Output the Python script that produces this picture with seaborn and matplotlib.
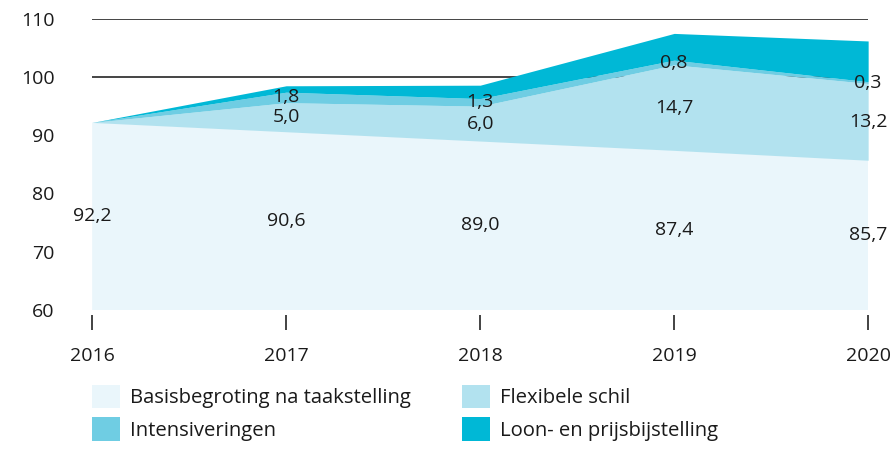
import matplotlib
matplotlib.use("Agg")
import matplotlib.pyplot as plt
from matplotlib.patches import Patch
import seaborn as sns
import pandas as pd

years = [2016, 2017, 2018, 2019, 2020]
basis = [92.2, 90.6, 89.0, 87.4, 85.7]
flexibel = [0.0, 5.0, 6.0, 14.7, 13.2]
intensiveringen = [0.0, 1.8, 1.3, 0.8, 0.3]
loon_prijs = [0.0, 1.1, 2.3, 4.6, 7.0]

series_names = ["Basisbegroting na taakstelling", "Flexibele schil",
                "Intensiveringen", "Loon- en prijsbijstelling"]
colors = ["#EAF6FB", "#B2E2EF", "#6FCDE3", "#00B8D6"]
yticks = [60, 70, 80, 90, 100, 110]
gridlines = [100, 110]

def fmt(v):
    return f"{v:.1f}".replace(".", ",")

df = pd.DataFrame({"jaar": years, series_names[0]: basis, series_names[1]: flexibel,
                   series_names[2]: intensiveringen, series_names[3]: loon_prijs})

sns.set_theme(style="white")
plt.rcParams["font.family"] = ["Open Sans", "DejaVu Sans"]
text_color = "#1a1a1a"
fs = 14
fs_leg = 14.6
px = fs_leg * 100 / 72.0

fig = plt.figure(figsize=(8.95, 4.49), dpi=100)
ax = fig.add_axes([0.103, 0.31, 0.867, 0.648])

for g in gridlines:
    ax.axhline(g, color="#444444", lw=1.4, zorder=0)

ax.stackplot(df["jaar"], [df[n] for n in series_names], colors=colors,
             linewidth=0, zorder=2)

ax.set_xlim(years[0], years[-1])
ax.set_ylim(yticks[0], yticks[-1])
ax.set_yticks(yticks)
ax.set_xticks(years)
ax.set_xticklabels([str(y) for y in years])
for s in ax.spines.values():
    s.set_visible(False)
ax.spines["bottom"].set_position(("outward", 3.5))
ax.tick_params(axis="x", direction="out", length=11, width=1.2, color="#222222",
               pad=12, labelsize=fs, labelcolor=text_color, bottom=True)
ax.tick_params(axis="y", length=0, pad=27, labelsize=fs, labelcolor=text_color)

# data labels
cum_flex = [b + f for b, f in zip(basis, flexibel)]
for i, x in enumerate(years):
    ax.text(x, (yticks[0] + basis[i]) / 2, fmt(basis[i]), ha="center", va="center",
            fontsize=fs, color=text_color, zorder=5)
    if i > 0:
        ax.text(x, basis[i] + flexibel[i] / 2, fmt(flexibel[i]), ha="center",
                va="center", fontsize=fs, color=text_color, zorder=5)
        ax.text(x, cum_flex[i] + intensiveringen[i] / 2, fmt(intensiveringen[i]),
                ha="center", va="center", fontsize=fs, color=text_color, zorder=5)

handles = [Patch(facecolor=colors[0], edgecolor="none", label=series_names[0]),
           Patch(facecolor=colors[2], edgecolor="none", label=series_names[2]),
           Patch(facecolor=colors[1], edgecolor="none", label=series_names[1]),
           Patch(facecolor=colors[3], edgecolor="none", label=series_names[3])]
leg = fig.legend(handles=handles, ncol=2, loc="upper left",
                 bbox_to_anchor=(92 / 895, 1 - 385 / 449), frameon=False,
                 fontsize=fs_leg,
                 handlelength=28 / px, handleheight=28 / px,
                 handletextpad=10 / px, columnspacing=51 / px,
                 labelspacing=9 / px, borderaxespad=0, borderpad=0)
for t in leg.get_texts():
    t.set_color(text_color)

fig.savefig("out.png", dpi=100)
